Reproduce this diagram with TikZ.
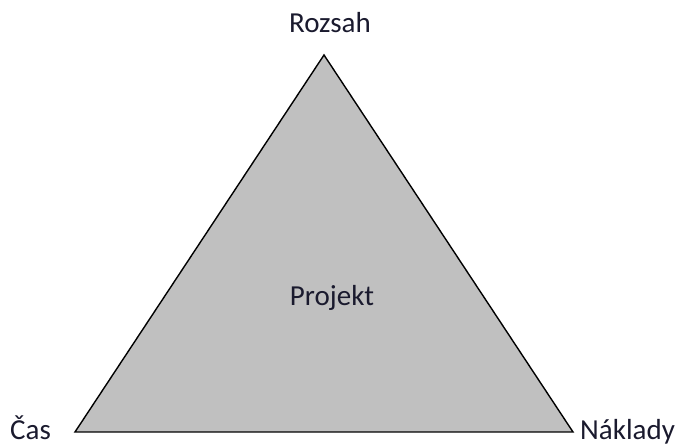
\documentclass[tikz,border=0pt]{standalone}
\usepackage{fontspec}
\setmainfont{Carlito}
\definecolor{trojuhelnik}{HTML}{C0C0C0}
\definecolor{popis}{HTML}{1A1A2E}
\tikzset{
  label/.style={font=\fontsize{29}{34}\selectfont, text=popis, inner sep=0pt},
}
\begin{document}
\begin{tikzpicture}[x=1pt,y=-1pt]
      \useasboundingbox (0,0) rectangle (678,446);
      \coordinate (R) at (324,55);
      \coordinate (C) at (75,432);
      \coordinate (N) at (573,432);
      \draw[fill=trojuhelnik, line width=1.4pt, line join=miter] (R) -- (C) -- (N) -- cycle;
      \draw
        (330,33) node[label, anchor=base] (rozsah){Rozsah}
        (10,440) node[label, anchor=base west] (cas){Čas}
        (580,440) node[label, anchor=base west] (naklady){Náklady}
        (332,306) node[label, anchor=base] (projekt){Projekt};
    \end{tikzpicture}
\end{document}
